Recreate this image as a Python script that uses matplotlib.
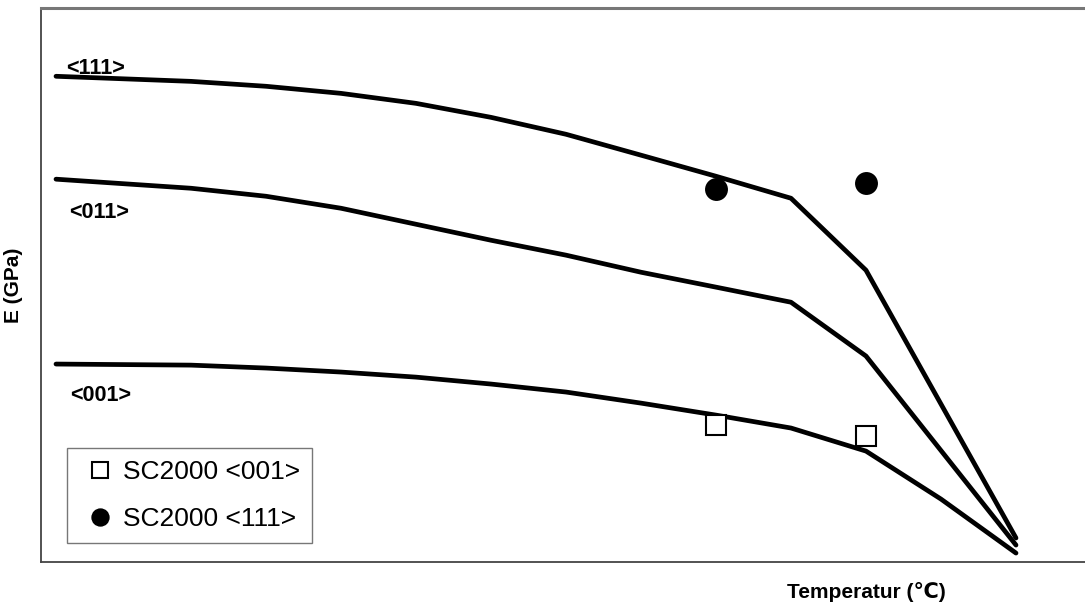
import matplotlib
matplotlib.use("Agg")
import matplotlib.pyplot as plt

plt.rcParams['font.family'] = ['Liberation Sans', 'DejaVu Sans']

# Temperature (°C) of curve vertices
temp = [20, 200, 300, 400, 500, 600, 700, 800, 900, 1000, 1100, 1300]
temp_001 = [20, 200, 300, 400, 500, 600, 700, 800, 900, 1000, 1100, 1200, 1300]

# Young's modulus curves (GPa)
e_111 = [315.8, 312.5, 309.3, 304.7, 298.2, 289.1, 278.1, 264.5, 250.8, 236.5, 189.7, 15.6]
e_011 = [248.9, 243.0, 237.8, 230.0, 219.6, 209.2, 199.5, 188.4, 178.7, 168.9, 133.9, 11.0]
e_001 = [128.7, 128.0, 126.1, 123.5, 120.2, 115.7, 110.5, 103.3, 95.5, 87.1, 72.1, 40.9, 5.8]

# SC2000 measurements
meas_temp = [900, 1100]
sc_001 = [89.0, 81.9]
sc_111 = [242.4, 246.2]

curve_labels = ['<111>', '<011>', '<001>']
label_pos = [(33, 317.1), (37, 223.5), (38.5, 104.8)]

fig = plt.figure(figsize=(10.85, 6.08), dpi=100)
ax = fig.add_axes([41/1085, 1 - 562/608, 1 - 41/1085, (562 - 8.3)/608])

for t, e in [(temp, e_111), (temp, e_011), (temp_001, e_001)]:
    ax.plot(t, e, color='black', lw=3.4, solid_capstyle='round', solid_joinstyle='round', zorder=2)

ax.plot(meas_temp, sc_001, ls='none', marker='s', ms=14.5, mfc='white', mec='black', mew=1.5,
        label='SC2000 <001>', zorder=3)
ax.plot(meas_temp, sc_111, ls='none', marker='o', ms=16.5, mfc='black', mec='black', mew=0,
        label='SC2000 <111>', zorder=3)

for lab, (x, y) in zip(curve_labels, label_pos):
    ax.text(x, y, lab, fontsize=15.5, fontweight='bold', ha='left', va='baseline')

ax.set_xlim(0, 1392)
ax.set_ylim(0, 360)
ax.set_xticks([])
ax.set_yticks([])

for s in ['left', 'bottom']:
    ax.spines[s].set_color('#444444')
    ax.spines[s].set_linewidth(1.3)
ax.spines['top'].set_color('#777777')
ax.spines['top'].set_linewidth(2.2)
ax.spines['right'].set_visible(False)

ax.set_ylabel('E (GPa)', fontsize=15, fontweight='bold')
ax.yaxis.set_label_coords(-0.017, 0.5)
ax.set_xlabel('Temperatur (℃)', fontsize=15, fontweight='bold')
ax.xaxis.set_label_coords(0.791, -0.036)

leg = ax.legend(loc='lower left', bbox_to_anchor=(0.0249, 0.0343), borderaxespad=0,
                fontsize=19, frameon=True, fancybox=False, edgecolor='#555555',
                markerscale=0.8, handlelength=1.6, handletextpad=0.08,
                borderpad=0.45, labelspacing=0.87)
leg.get_frame().set_linewidth(1.0)

fig.savefig('out.png', dpi=100)
